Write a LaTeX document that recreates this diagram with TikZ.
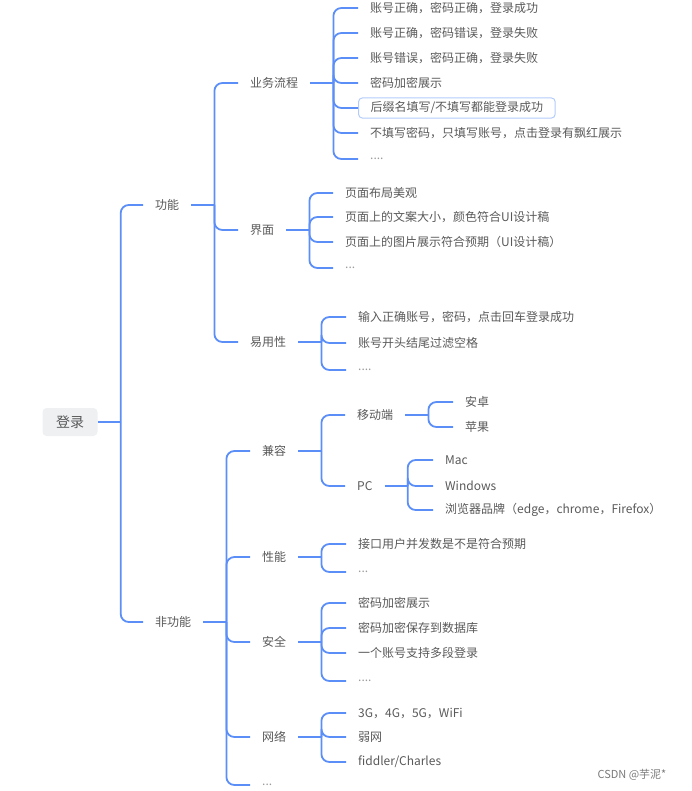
\documentclass[tikz,border=0pt]{standalone}
\usepackage{fontspec}
\setmainfont{Noto Sans CJK SC}
\definecolor{linkblue}{HTML}{5B8EF7}
\definecolor{txtgray}{HTML}{595959}
\definecolor{boxblue}{HTML}{B3CBFA}
\definecolor{rootfill}{HTML}{EEF0F2}

\begin{document}
\begin{tikzpicture}[x=1pt,y=-1pt,
  link/.style={draw=linkblue,line width=1.8pt,rounded corners=8pt},
  topic/.style={anchor=west,inner xsep=12pt,inner ysep=2pt,text=txtgray,font=\fontsize{12}{14}\selectfont},
  dots/.style={topic,text=txtgray!60},
  hl/.style={draw=boxblue,line width=1pt,rounded corners=4pt,inner ysep=4pt},
  rootbox/.style={fill=rootfill,rounded corners=4pt,minimum width=55pt,minimum height=28pt,text=txtgray,font=\fontsize{14}{16}\selectfont}]

\useasboundingbox (0,0) rectangle (692,791);

\node[rootbox] (login) at (70,422) {登录};

\node[topic] (gn) at (143,205) {功能};
\node[topic] (fgn) at (143,622) {非功能};

\node[topic] (yw) at (238,83) {业务流程};
\node[topic] (jm) at (238,230) {界面};
\node[topic] (yyx) at (238,342) {易用性};

\node[topic] (yw1) at (358,8) {账号正确，密码正确，登录成功};
\node[topic] (yw2) at (358,33) {账号正确，密码错误，登录失败};
\node[topic] (yw3) at (358,58) {账号错误，密码正确，登录失败};
\node[topic] (yw4) at (358,83) {密码加密展示};
\node[topic,hl] (yw5) at (358,108) {后缀名填写/不填写都能登录成功};
\node[topic] (yw6) at (358,133) {不填写密码，只填写账号，点击登录有飘红展示};
\node[dots] (yw7) at (358,159) {....};

\node[topic] (jm1) at (333,193) {页面布局美观};
\node[topic] (jm2) at (333,217) {页面上的文案大小，颜色符合UI设计稿};
\node[topic] (jm3) at (333,242) {页面上的图片展示符合预期（UI设计稿）};
\node[dots] (jm4) at (333,268) {...};

\node[topic] (yyx1) at (346,317) {输入正确账号，密码，点击回车登录成功};
\node[topic] (yyx2) at (346,343) {账号开头结尾过滤空格};
\node[dots] (yyx3) at (346,370) {....};

\node[topic] (jr) at (250,451) {兼容};
\node[topic] (xn) at (250,557) {性能};
\node[topic] (aq) at (250,642) {安全};
\node[topic] (wl) at (250,737) {网络};
\node[dots] (fgn5) at (250,785) {...};

\node[topic] (yd) at (345,415) {移动端};
\node[topic] (pc) at (345,486) {PC};
\node[topic] (yd1) at (453,402) {安卓};
\node[topic] (yd2) at (453,427) {苹果};
\node[topic] (pc1) at (433,460) {Mac};
\node[topic] (pc2) at (433,486) {Windows};
\node[topic] (pc3) at (433,510) {浏览器品牌（edge，chrome，Firefox）};

\node[topic] (xn1) at (346,544) {接口用户并发数是不是符合预期};
\node[dots] (xn2) at (346,572) {...};

\node[topic] (aq1) at (346,603) {密码加密展示};
\node[topic] (aq2) at (346,628) {密码加密保存到数据库};
\node[topic] (aq3) at (346,653) {一个账号支持多段登录};
\node[dots] (aq4) at (346,681) {....};

\node[topic] (wl1) at (346,713) {3G，4G，5G，WiFi};
\node[topic] (wl2) at (346,737) {弱网};
\node[topic] (wl3) at (346,762) {fiddler/Charles};

\node[anchor=west,text=txtgray!80,font=\fontsize{11}{13}\selectfont] (mark) at (594,775) {CSDN @芋泥*};

\draw[link] (login.east) -- ++(23,0) coordinate (loginB);
\foreach \c in {gn,fgn} \draw[link] (loginB) |- (\c.west);

\draw[link] (gn.east) -- ++(23,0) coordinate (gnB);
\foreach \c in {yw,jm,yyx} \draw[link] (gnB) |- (\c.west);

\draw[link] (yw.east) -- ++(23,0) coordinate (ywB);
\foreach \c in {yw1,yw2,yw3,yw4,yw5,yw6,yw7} \draw[link] (ywB) |- (\c.west);

\draw[link] (jm.east) -- ++(23,0) coordinate (jmB);
\foreach \c in {jm1,jm2,jm3,jm4} \draw[link] (jmB) |- (\c.west);

\draw[link] (yyx.east) -- ++(23,0) coordinate (yyxB);
\foreach \c in {yyx1,yyx2,yyx3} \draw[link] (yyxB) |- (\c.west);

\draw[link] (fgn.east) -- ++(23,0) coordinate (fgnB);
\foreach \c in {jr,xn,aq,wl,fgn5} \draw[link] (fgnB) |- (\c.west);

\draw[link] (jr.east) -- ++(23,0) coordinate (jrB);
\foreach \c in {yd,pc} \draw[link] (jrB) |- (\c.west);

\draw[link] (yd.east) -- ++(23,0) coordinate (ydB);
\foreach \c in {yd1,yd2} \draw[link] (ydB) |- (\c.west);

\draw[link] (pc.east) -- ++(23,0) coordinate (pcB);
\foreach \c in {pc1,pc2,pc3} \draw[link] (pcB) |- (\c.west);

\draw[link] (xn.east) -- ++(23,0) coordinate (xnB);
\foreach \c in {xn1,xn2} \draw[link] (xnB) |- (\c.west);

\draw[link] (aq.east) -- ++(23,0) coordinate (aqB);
\foreach \c in {aq1,aq2,aq3,aq4} \draw[link] (aqB) |- (\c.west);

\draw[link] (wl.east) -- ++(23,0) coordinate (wlB);
\foreach \c in {wl1,wl2,wl3} \draw[link] (wlB) |- (\c.west);

\end{tikzpicture}
\end{document}
